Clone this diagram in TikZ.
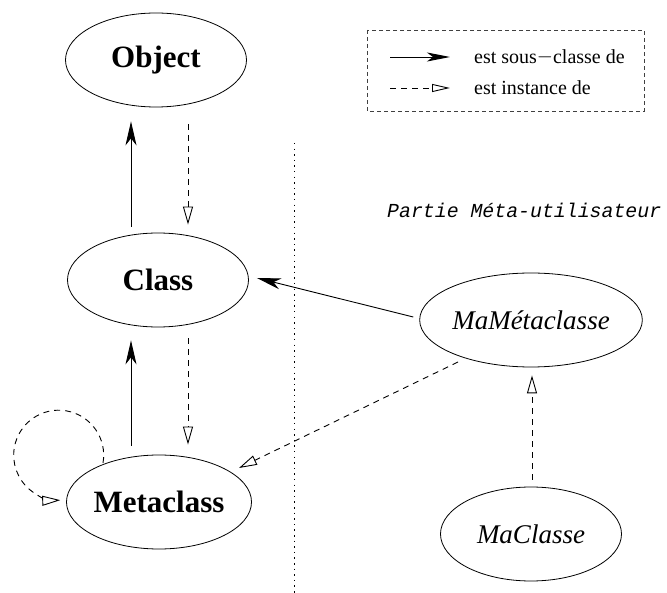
\documentclass[tikz,border=0pt]{standalone}
\usepackage{fontspec}
\setmainfont{Liberation Serif}
\newfontfamily\courierfont{Liberation Mono}
\usetikzlibrary{arrows.meta,shapes.geometric,calc}
\begin{document}
\begin{tikzpicture}[x=1pt,y=1pt,
  classnode/.style={draw,ellipse,line width=0.8pt,minimum width=181pt,minimum height=94pt,inner sep=0pt},
  kernel/.style={classnode,font=\fontsize{31}{31}\selectfont\bfseries},
  user/.style={classnode,font=\fontsize{27}{27}\selectfont\itshape},
  subclass/.style={line width=0.9pt,-{Stealth[length=24pt,width=11pt,inset=7pt]}},
  instanceof/.style={line width=0.9pt,dash pattern=on 6pt off 5pt,-{Triangle[open,length=18pt,width=10pt]}},
  legendtext/.style={anchor=west,inner sep=0pt,font=\fontsize{20}{20}\selectfont}
]
\useasboundingbox (0,0) rectangle (667,-593);

% class nodes
\node[kernel] (object) at (156,-60) {Object};
\node[kernel] (class) at (158,-280) {Class};
\node[kernel] (meta) at (159,-502) {Metaclass};
\node[user] (mameta) at (531,-320) {MaMétaclasse};
\node[user] (maclasse) at (531,-534) {MaClasse};

% separator between kernel and user level
\coordinate (septop) at (294,-143);
\coordinate (sepbot) at (294,-593);
\draw[line width=1pt,dash pattern=on 1.5pt off 4.1pt] (septop) -- (sepbot);
\node[anchor=west,inner sep=0pt,font=\courierfont\itshape\fontsize{20}{20}\selectfont] (part) at (387,-210)
  {\resizebox{274pt}{!}{Partie Méta-utilisateur}};

% subclass links
\draw[subclass] ($(class.north)+(-27,6)$) -- ($(object.south)+(-25,-14)$);
\draw[subclass] ($(meta.north)+(-28,9)$) -- ($(class.south)+(-27,-13)$);
\draw[subclass] ($(mameta.west)+(-6,3)$) -- ($(class.east)+(8,2)$);

% instance links
\draw[instanceof] ($(object.south)+(32,-17)$) -- ($(class.north)+(30,8)$);
\draw[instanceof] ($(class.south)+(30,-11)$) -- ($(meta.north)+(29,10)$);
\draw[instanceof] ($(mameta.center)+(-73,-42)$) -- ($(meta.center)+(80,34)$);
\draw[instanceof] ($(maclasse.north)+(1,7)$) -- ($(mameta.south)+(1,-8)$);

% Metaclass is an instance of itself
\draw[instanceof] ($(meta.center)+(-56,39)$) arc[start angle=-10,end angle=272,radius=45];

% legend
\draw[black!75,line width=0.8pt,dash pattern=on 4pt off 3pt] (367,-30) rectangle (644,-111);
\coordinate (la1) at (390,-57);
\coordinate (la2) at (450,-57);
\coordinate (lb1) at (390,-88);
\coordinate (lb2) at (450,-88);
\draw[line width=0.9pt,-{Stealth[length=23pt,width=9pt,inset=6pt]}] (la1) -- (la2);
\draw[line width=0.9pt,dash pattern=on 6pt off 5pt,-{Triangle[open,length=18pt,width=8pt]}] (lb1) -- (lb2);
\node[legendtext] (lta) at (474,-57) {est sous\raisebox{0.1ex}{$-$}classe de};
\node[legendtext] (ltb) at (474,-88) {est instance de};
\end{tikzpicture}
\end{document}
